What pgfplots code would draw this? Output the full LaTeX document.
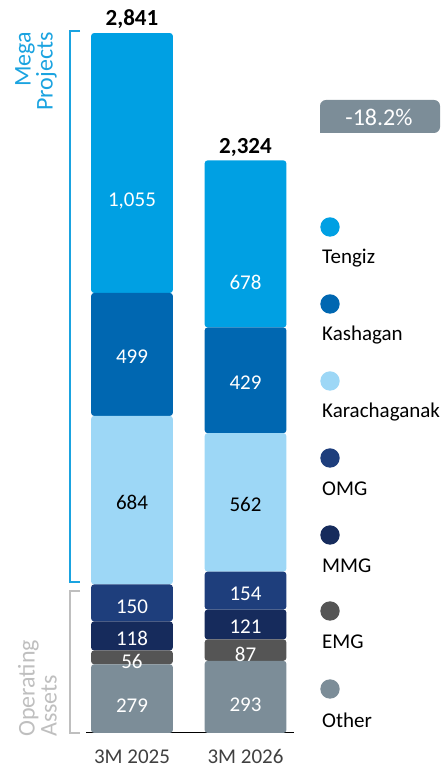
\documentclass[border=0pt]{standalone}
\usepackage{pgfplots}
\pgfplotsset{compat=1.18}
\usepackage{pgfplotstable}
\usepackage{fontspec}
\setmainfont{Carlito}

\definecolor{tengiz}{RGB}{0,160,227}
\definecolor{kash}{RGB}{0,103,177}
\definecolor{kara}{RGB}{157,215,246}
\definecolor{omg}{RGB}{30,62,124}
\definecolor{mmg}{RGB}{22,43,92}
\definecolor{emg}{RGB}{85,85,85}
\definecolor{other}{RGB}{124,141,152}
\definecolor{megablue}{RGB}{26,163,224}
\definecolor{opgray}{RGB}{191,191,191}
\definecolor{tickgray}{RGB}{64,64,64}

% capex by asset, bottom to top
\pgfplotstableread{
x other emg mmg omg kara kash tengiz total
0 279   56  118 150 684  499  1055   2841
1 293   87  121 154 562  429  678    2324
}\capex

\newcommand{\lbl}{\fontsize{21}{25}\selectfont}

\pgfplotsset{
    frame/.style={
        at={(86pt,38pt)}, anchor=south west,
        scale only axis, width=208pt, height=733pt,
        xmin=-0.405, xmax=1.427, ymin=0, ymax=2975,
        clip=false,
        /pgf/number format/assume math mode=true,
        /pgf/number format/1000 sep={,},
    },
}

\begin{document}
\begin{tikzpicture}[x=1pt,y=1pt]
\useasboundingbox (0,0) rectangle (445,771);
\begin{axis}[
    frame,
    ybar stacked, bar width=0.72,
    axis y line=none, axis x line=bottom,
    axis line style={black, line width=1pt, -},
    xtick={0,1}, xticklabels={3M 2025,3M 2026},
    major tick length=0pt,
    xticklabel style={font=\lbl, text=tickgray, yshift=-13pt},
    % fill, column, label colour, label drop (pt)
    seg/.style n args={4}{
        fill=#1, draw=none, rounded corners=3pt,
        point meta=\thisrow{#2},
        nodes near coords={\pgfmathprintnumber{\pgfplotspointmeta}},
        every node near coord/.style={anchor=center, text=#3, font=\lbl,
            yshift=-#4pt},
    },
]
\addplot[seg={other}{other}{white}{7.5}]   table[x=x,y=other]{\capex};
\addplot[seg={emg}{emg}{white}{4.5}]       table[x=x,y=emg]{\capex};
\addplot[seg={mmg}{mmg}{white}{2.2}]       table[x=x,y=mmg]{\capex};
\addplot[seg={omg}{omg}{white}{3.7}]       table[x=x,y=omg]{\capex};
\addplot[seg={kara}{kara}{black}{2.2}]     table[x=x,y=kara]{\capex};
\addplot[seg={kash}{kash}{white}{2.6}]     table[x=x,y=kash]{\capex};
\addplot[seg={tengiz}{tengiz}{white}{38}]  table[x=x,y=tengiz]{\capex};
\end{axis}

% totals above the bars
\begin{axis}[frame, hide axis]
\addplot[draw=none, mark=none, point meta=\thisrow{total},
    nodes near coords={\pgfmathprintnumber{\pgfplotspointmeta}},
    every node near coord/.style={anchor=south, text=black,
        font=\fontsize{23}{27}\selectfont\bfseries, yshift=0.5pt}]
    table[x=x,y=total]{\capex};
\end{axis}

% brackets
\draw[megablue, line width=1.3pt] (80,740) -- (70,740) -- (70,189) -- (80,189);
\draw[opgray, line width=1.3pt] (80,180) -- (70,180) -- (70,38) -- (80,38);
\node[rotate=90, anchor=south east, align=right, text=megablue,
      font=\fontsize{24}{22}\selectfont, inner sep=0pt] at (57,739) {Mega\\Projects};
\node[rotate=90, anchor=south west, align=left, text=opgray,
      font=\fontsize{24}{22}\selectfont, inner sep=0pt] at (57,34) {Operating\\Assets};

% change badge
\fill[other] (320,638) [rounded corners=6pt] -- (320,671) -- (440,671)
    -- (440,638) [sharp corners] -- cycle;
\node[text=white, font=\fontsize{24}{28}\selectfont] at (379,654) {-18.2\%};

% legend
\foreach \c/\t/\y in {tengiz/Tengiz/227, kash/Kashagan/304, kara/Karachaganak/381,
    omg/OMG/458, mmg/MMG/535, emg/EMG/611, other/Other/689} {
  \fill[\c] (330,771-\y) circle (9.7);
  \node[anchor=west, inner sep=0pt, font=\fontsize{21}{25}\selectfont] at (322,771-\y-31) {\t};
}
\end{tikzpicture}
\end{document}
